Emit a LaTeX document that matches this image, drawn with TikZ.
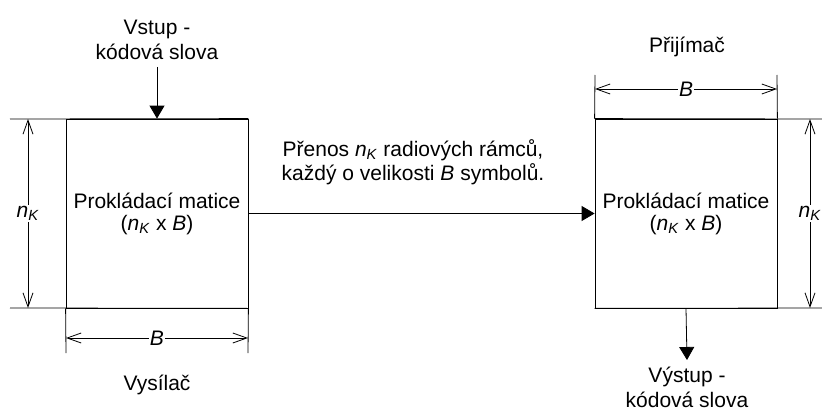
\documentclass[tikz,border=0pt]{standalone}
\usepackage{fontspec}
\setmainfont{Liberation Sans}
\usetikzlibrary{arrows.meta}
\newcommand{\nK}{\textit{n}\textsubscript{\textit{K}}}

\begin{document}
\begin{tikzpicture}[x=1pt, y=-1pt, font=\fontsize{21}{25}\selectfont]
    \tikzstyle{matrix box} = [draw=black, line width=0.8pt, minimum width=182pt, minimum height=189pt, align=center, inner sep=0pt, font=\fontsize{21}{22}\selectfont]
    \tikzstyle{plain line} = [draw=black, line width=0.8pt]
    \tikzstyle{dim line} = [plain line, {Straight Barb[length=14pt,width=10pt]}-{Straight Barb[length=14pt,width=10pt]}]
    \tikzstyle{dim label} = [fill=white, inner sep=1pt]
    \tikzstyle{flow edge} = [plain line, -{Triangle[length=13pt,width=15pt]}]
    \tikzstyle{caption} = [align=center, inner sep=0pt]
\useasboundingbox (0,0) rectangle (822,412);
\node[matrix box] (tx) at (157,213.5) {Prokládací matice\\(\nK{} x \textit{B})};
\node[matrix box] (rx) at (686,213.5) {Prokládací matice\\(\nK{} x \textit{B})};
\node[caption, anchor=south, inner ysep=7pt] (in) at (157,67) {Vstup -\\kódová slova};
\node[caption, anchor=north, inner ysep=7pt, font=\fontsize{21}{25}\selectfont] (out) at (687,360) {Výstup -\\kódová slova};
\node[caption] (txname) at (157,385) {Vysílač};
\node[caption] (rxname) at (687,47) {Přijímač};
\node[caption] (link) at (413,162) {Přenos \nK{} radiových rámců,\\[-1pt]každý o velikosti \textit{B} symbolů.};
\coordinate (txl top) at (10,119);
\coordinate (txl bottom) at (10,308);
\coordinate (txw low) at (66,353);
\coordinate (txe low) at (248,353);
\coordinate (txB west) at (66,338);
\coordinate (txB east) at (248,338);
\coordinate (txN top) at (28,119);
\coordinate (txN bottom) at (28,308);
\coordinate (rxw high) at (595,75);
\coordinate (rxe high) at (777,75);
\coordinate (rxB west) at (595,89);
\coordinate (rxB east) at (777,89);
\coordinate (rxr top) at (822,119);
\coordinate (rxr bottom) at (822,308);
\coordinate (rxN top) at (810,119);
\coordinate (rxN bottom) at (810,308);
\draw[plain line] (tx.north east) -- (txl top);
\draw[plain line] (tx.south east) -- (txl bottom);
\draw[plain line] (tx.south west) -- (txw low);
\draw[plain line] (tx.south east) -- (txe low);
\draw[dim line] (txN top) -- node[dim label] {\nK} (txN bottom);
\draw[dim line] (txB west) -- node[dim label] {\textit{B}} (txB east);
\draw[plain line] (rx.north west) -- (rxr top);
\draw[plain line] (rx.south west) -- (rxr bottom);
\draw[plain line] (rx.north west) -- (rxw high);
\draw[plain line] (rx.north east) -- (rxe high);
\draw[dim line] (rxN top) -- node[dim label] {\nK} (rxN bottom);
\draw[dim line] (rxB west) -- node[dim label] {\textit{B}} (rxB east);
\draw[flow edge] (in.south) -- (tx.north);
\draw[flow edge] (tx.east) -- (rx.west);
\draw[flow edge] (rx.south) -- (out.north);
\end{tikzpicture}
\end{document}
